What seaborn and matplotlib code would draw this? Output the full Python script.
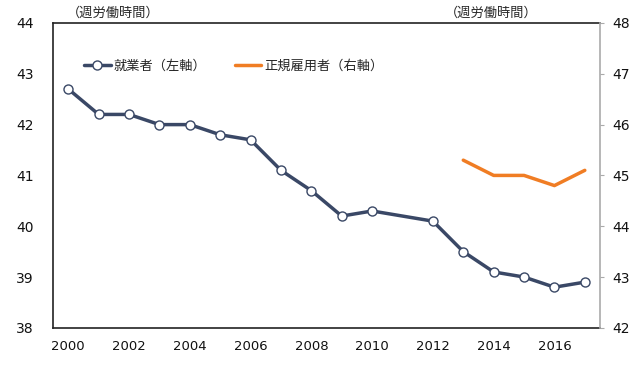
import matplotlib
matplotlib.use("Agg")
import matplotlib.pyplot as plt
import seaborn as sns
import pandas as pd

years_all = [2000, 2001, 2002, 2003, 2004, 2005, 2006, 2007, 2008, 2009,
             2010, 2012, 2013, 2014, 2015, 2016, 2017]
hours_all = [42.7, 42.2, 42.2, 42.0, 42.0, 41.8, 41.7, 41.1, 40.7, 40.2,
             40.3, 40.1, 39.5, 39.1, 39.0, 38.8, 38.9]
years_reg = [2013, 2014, 2015, 2016, 2017]
hours_reg = [45.3, 45.0, 45.0, 44.8, 45.1]
xticks = [2000, 2002, 2004, 2006, 2008, 2010, 2012, 2014, 2016]

sns.set_style("white")
plt.rcParams['font.family'] = ['Noto Sans CJK JP', 'DejaVu Sans']

df_all = pd.DataFrame({'year': years_all, 'hours': hours_all})
df_reg = pd.DataFrame({'year': years_reg, 'hours': hours_reg})

navy = '#3a4866'
orange = '#f07d24'

fig, ax = plt.subplots(figsize=(6.4, 3.83), dpi=100)
fig.subplots_adjust(left=0.083, right=0.9375, top=0.94, bottom=0.144)
ax2 = ax.twinx()

sns.lineplot(data=df_all, x='year', y='hours', ax=ax, color=navy, lw=2.5,
             marker='o', markersize=6.5, markerfacecolor='white',
             markeredgecolor=navy, markeredgewidth=1.0, label='就業者（左軸）',
             legend=False)
sns.lineplot(data=df_reg, x='year', y='hours', ax=ax2, color=orange, lw=2.5,
             label='正規雇用者（右軸）', legend=False)

ax.set_xlim(1999.5, 2017.5)
ax.set_ylim(38, 44)
ax2.set_ylim(42, 48)
ax.set_xticks(xticks)
ax.set_yticks(range(38, 45))
ax2.set_yticks(range(42, 49))
ax.set_xlabel('')
ax.set_ylabel('')
ax2.set_ylabel('')

for a in (ax, ax2):
    for s in a.spines.values():
        s.set_visible(False)
for side in ('left', 'top', 'bottom'):
    ax.spines[side].set_visible(True)
    ax.spines[side].set_color('#222222')
    ax.spines[side].set_linewidth(1.2)
ax2.spines['right'].set_visible(True)
ax2.spines['right'].set_color('#aaaaaa')
ax2.spines['right'].set_linewidth(1.2)

ax.tick_params(axis='y', length=0, pad=14, labelsize=10, colors='#111111')
ax.tick_params(axis='x', length=0, pad=9, labelsize=9.5, colors='#111111')
ax2.tick_params(axis='y', length=3, color='#aaaaaa', pad=6, labelsize=10,
                labelcolor='#111111')
for lab in ax.get_xticklabels() + ax.get_yticklabels() + ax2.get_yticklabels():
    lab.set_fontfamily('DejaVu Sans')
ax.grid(False)
ax2.grid(False)

fig.text(0.105, 0.965, '（週労働時間）', fontsize=9.5, ha='left', va='center')
fig.text(0.84, 0.965, '（週労働時間）', fontsize=9.5, ha='right', va='center')

h1, l1 = ax.get_legend_handles_labels()
h2, l2 = ax2.get_legend_handles_labels()
ax.legend(h1 + h2, l1 + l2, loc='upper left', bbox_to_anchor=(0.035, 0.92),
          ncol=2, frameon=False, fontsize=9.5, handlelength=2.0,
          columnspacing=2.2, handletextpad=0.2)

fig.savefig('out.png', dpi=100)
